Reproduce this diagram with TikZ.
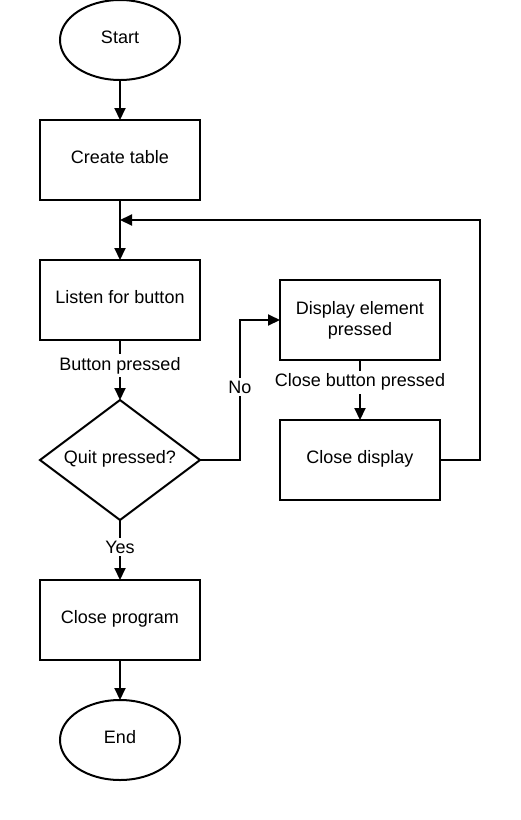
\documentclass[tikz,border=0pt]{standalone}
\usepackage{fontspec}
\setmainfont{Liberation Sans}
\usetikzlibrary{shapes.geometric,arrows.meta}

\begin{document}
\begin{tikzpicture}[x=1pt,y=-1pt,inner sep=0pt,outer sep=0pt,line width=2pt,
    every node/.style={font=\fontsize{18}{21}\selectfont},
    term/.style={draw,ellipse,minimum width=120pt,minimum height=80pt,text depth=6pt},
    proc/.style={draw,minimum width=160pt,minimum height=80pt,text depth=6pt},
    twoline/.style={draw,minimum width=160pt,minimum height=80pt,align=center},
    decide/.style={draw,diamond,aspect=1.333,minimum width=160pt,minimum height=120pt,text depth=6pt},
    lbl/.style={fill=white,inner sep=3pt},
    flow/.style={-{Triangle[length=12pt,width=11pt]}}]
    \fill[white] (0,0) rectangle (520,820);
    \useasboundingbox (0,0) rectangle (520,820);

    % main column
    \node[term] (start) at (120,40) {Start};
    \node[proc] (create) at (120,160) {Create table};
    \node[proc] (listen) at (120,300) {Listen for button};
    \node[decide] (quit) at (120,460) {Quit pressed?};
    \node[proc] (closeprog) at (120,620) {Close program};
    \node[term] (end) at (120,740) {End};

    % display branch
    \node[twoline] (display) at (360,320) {Display element\\pressed};
    \node[proc] (closedisp) at (360,460) {Close display};
    \coordinate (merge) at (120,220);

    % connectors
    \draw[flow] (start) -- (create);
    \draw[flow] (create) -- (listen);
    \draw[flow] (listen) -- node[lbl,pos=0.43] (btn) {Button pressed} (quit);
    \draw[flow] (quit) -- node[lbl,pos=0.45] (yes) {Yes} (closeprog);
    \draw[flow] (closeprog) -- (end);
    \draw[flow] (quit.east) -- ++(40,0) |- (display.west);
    \node[lbl] (no) at (240,387) {No};
    \draw[flow] (display) -- node[lbl,pos=0.37] (closebtn) {Close button pressed} (closedisp);
    \draw[flow] (closedisp.east) -- ++(40,0) |- (merge);
\end{tikzpicture}
\end{document}
